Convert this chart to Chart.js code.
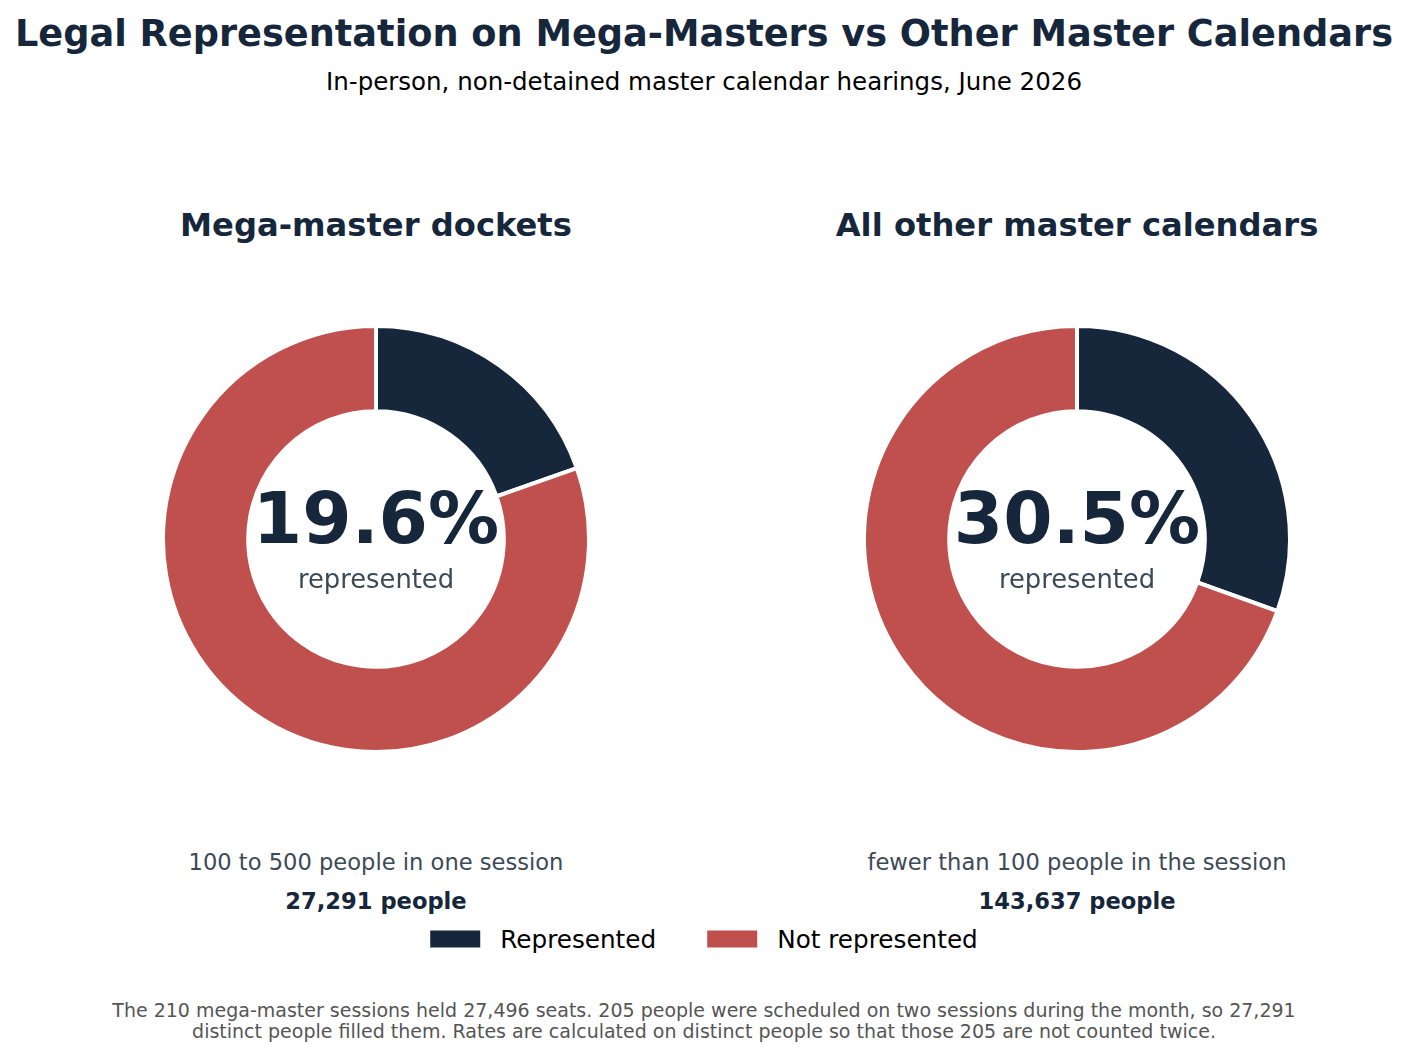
<!DOCTYPE html>
<html>
<head>
<meta charset="utf-8">
<script src="https://cdn.jsdelivr.net/npm/chart.js@4"></script>
<style>
  html, body { margin: 0; padding: 0; background: #fff; }
  body { width: 1409px; height: 1057px; position: relative; overflow: hidden; font-family: 'DejaVu Sans', sans-serif; }
  .c { position: absolute; transform: translate(-50%, -50%); text-align: center; white-space: nowrap; }
  canvas { display: block; }
  .wrap { position: absolute; width: 440px; height: 440px; }
  #legend { position: absolute; top: 939px; left: 704px; transform: translate(-50%, -50%); display: flex; gap: 51px; font-size: 24.7px; color: #000; white-space: nowrap; }
  #legend span.sw { display: inline-block; width: 50px; height: 17px; margin-right: 20px; vertical-align: 0px; }
</style>
</head>
<body>
<div id="panels"></div>
<div id="legend"></div>

<script>
// Données
const SEGMENTS = ['Represented', 'Not represented'];
const COLORS = ['#16263b', '#c0504d'];
const PANEL_TITLES = ['Mega-master dockets', 'All other master calendars'];
const PANEL_NOTES = ['100 to 500 people in one session', 'fewer than 100 people in the session'];
const PANEL_PEOPLE = ['27,291 people', '143,637 people'];
const REPRESENTED_PCT = [19.6, 30.5];
const NOT_REPRESENTED_PCT = [80.4, 69.5];

const TITLE = 'Legal Representation on Mega-Masters vs Other Master Calendars';
const SUBTITLE = 'In-person, non-detained master calendar hearings, June 2026';
const FOOTNOTE = [
  'The 210 mega-master sessions held 27,496 seats. 205 people were scheduled on two sessions during the month, so 27,291',
  'distinct people filled them. Rates are calculated on distinct people so that those 205 are not counted twice.'
];

// Mise en page
const CENTERS_X = [376, 1077];
const CENTER_Y = 539;
const BOX = 440;

const panels = document.getElementById('panels');

function addText(x, y, text, style) {
  const d = document.createElement('div');
  d.className = 'c';
  d.style.left = x + 'px';
  d.style.top = y + 'px';
  d.style.cssText += style;
  d.textContent = text;
  panels.appendChild(d);
}

addText(704, 33, TITLE, 'font-size:36.7px;font-weight:bold;color:#16263b;');
addText(704, 81, SUBTITLE, 'font-size:24.5px;color:#000;');
addText(704, 1010, FOOTNOTE[0], 'font-size:19px;color:#555;');
addText(704, 1031, FOOTNOTE[1], 'font-size:19px;color:#555;');

CENTERS_X.forEach((cx, i) => {
  addText(cx, 225, PANEL_TITLES[i], 'font-size:32.2px;font-weight:bold;color:#16263b;');

  const wrap = document.createElement('div');
  wrap.className = 'wrap';
  wrap.style.left = (cx - BOX / 2) + 'px';
  wrap.style.top = (CENTER_Y - BOX / 2) + 'px';
  const canvas = document.createElement('canvas');
  wrap.appendChild(canvas);
  panels.appendChild(wrap);

  new Chart(canvas.getContext('2d'), {
    type: 'doughnut',
    data: {
      labels: SEGMENTS,
      datasets: [{
        data: [REPRESENTED_PCT[i], NOT_REPRESENTED_PCT[i]],
        backgroundColor: COLORS,
        borderColor: '#ffffff',
        borderWidth: 4,
        hoverOffset: 0
      }]
    },
    options: {
      responsive: true,
      maintainAspectRatio: false,
      animation: false,
      cutout: '60%',
      layout: { padding: 5 },
      plugins: { legend: { display: false }, tooltip: { enabled: false } }
    }
  });

  addText(cx, 518, REPRESENTED_PCT[i].toFixed(1) + '%', 'font-size:71px;font-weight:bold;color:#16263b;');
  addText(cx, 579, 'represented', 'font-size:25.8px;color:#3d4a56;');
  addText(cx, 862, PANEL_NOTES[i], 'font-size:22.6px;color:#3d4a56;');
  addText(cx, 901, PANEL_PEOPLE[i], 'font-size:22.6px;font-weight:bold;color:#16263b;');
});

// Légende
const legend = document.getElementById('legend');
SEGMENTS.forEach((label, i) => {
  const item = document.createElement('div');
  item.innerHTML = `<span class="sw" style="background:${COLORS[i]}"></span>${label}`;
  legend.appendChild(item);
});
</script>
</body>
</html>
